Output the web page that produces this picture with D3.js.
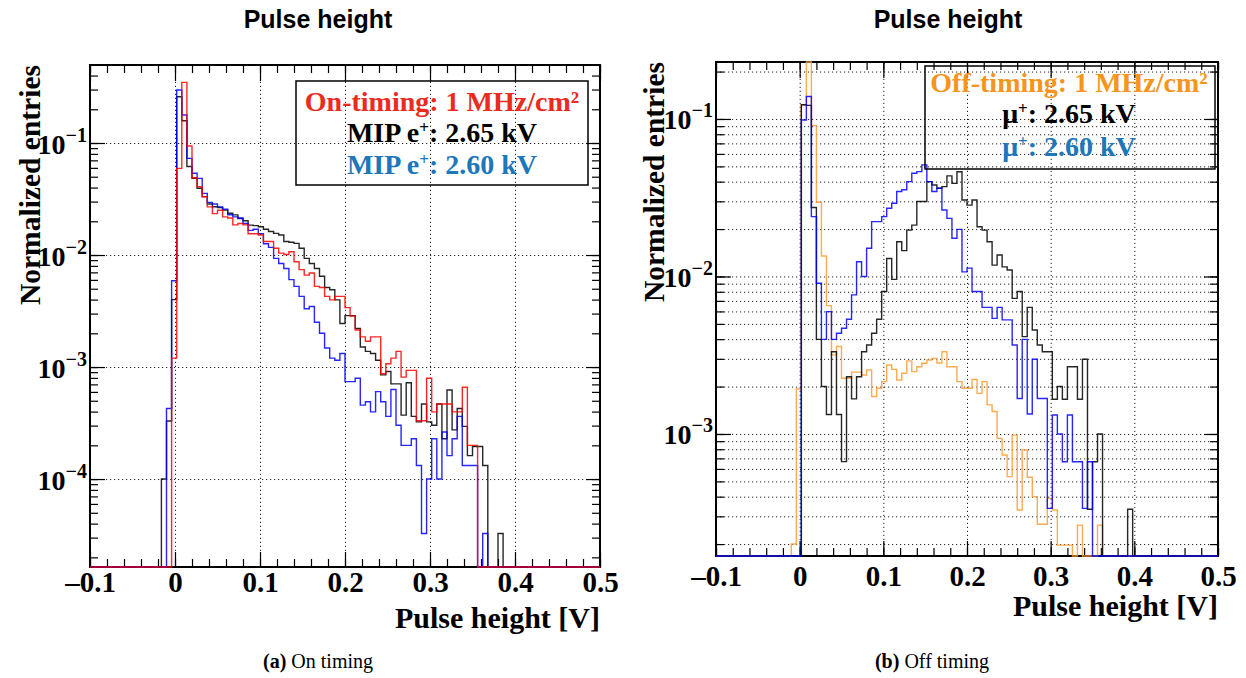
<!DOCTYPE html>
<html>
<head>
<meta charset="utf-8">
<script src="https://cdn.jsdelivr.net/npm/d3@7"></script>
<style>
  body { margin: 0; background: #fff; }
  svg { display: block; }
</style>
</head>
<body>
<svg id="chart" width="1246" height="678"></svg>
<script>
// ---- binning (100 bins from -0.1 V to 0.5 V) ----
const BIN_LO = -0.1;
const BIN_W = 0.006;
const N_BINS = 100;

// ---- axis ticks ----
const xTickValues = [-0.1, 0, 0.1, 0.2, 0.3, 0.4, 0.5];
const xTickLabels = ["\u20130.1", "0", "0.1", "0.2", "0.3", "0.4", "0.5"];
const onDecades = [-1, -2, -3, -4];
const offDecades = [-1, -2, -3];

// ---- (a) on timing: normalized entries per bin, starting at bin onFirstBin ----
const onFirstBin = 14;
const onBlack = [ // MIP e+ 2.65 kV
  1.0e-4, 3.3e-4, 4.0e-3, 0.259, 0.158, 0.0617, 0.0484, 0.0394, 0.0332, 0.0285,
  0.0270, 0.0266, 0.0252, 0.0236, 0.0228, 0.0212, 0.0202, 0.0185, 0.0183, 0.0179,
  0.0170, 0.0162, 0.0156, 0.0151, 0.0132, 0.0130, 0.0127, 0.0115, 0.00933, 0.00841,
  0.00759, 0.00646, 0.00513, 0.00490, 0.00398, 0.00245, 0.00288, 0.00288, 0.00221, 0.00151,
  0.00138, 0.00132, 0.00115, 0.000851, 0.000912, 0.000708, 0.000708, 0.000372, 0.000724, 0.000363,
  0.000324, 0.000468, 0.000324, 0.000302, 0.000468, 0.000229, 0.000624, 0.000275, 0.000427, 0.000295,
  0.000162, 0.000195, 0.000195, 0.000132, 0, 0, 3.27e-5
];
const onBlue = [ // MIP e+ 2.60 kV
  0, 0.000427, 0.00589, 0.297, 0.178, 0.0729, 0.0537, 0.0483, 0.0355, 0.0295,
  0.0285, 0.0269, 0.0257, 0.0229, 0.0219, 0.0214, 0.0191, 0.0166, 0.0170, 0.0155,
  0.0126, 0.0117, 0.00933, 0.00841, 0.00759, 0.00603, 0.00525, 0.00427, 0.00331, 0.00347,
  0.00251, 0.00200, 0.00148, 0.00120, 0.00115, 0.00132, 0.000741, 0.000741, 0.000794, 0.000457,
  0.000490, 0.000398, 0.000603, 0.000490, 0.000363, 0.000631, 0.000302, 0.000200, 0.000200, 0.000229,
  0.000132, 3.27e-5, 0.000100, 0.000229, 0.000100, 0.000263, 0.000162, 0.000229, 0.000363, 0.000132,
  0.000132, 0.000132, 0, 3.27e-5
];
const onRed = [ // on-timing 1 MHz/cm2
  0, 0, 0.00120, 0.0594, 0.348, 0.0940, 0.0490, 0.0407, 0.0331, 0.0269,
  0.0234, 0.0251, 0.0219, 0.0214, 0.0186, 0.0191, 0.0186, 0.0155, 0.0155, 0.0151,
  0.0132, 0.0132, 0.0115, 0.0104, 0.0101, 0.0107, 0.00871, 0.00741, 0.00661, 0.00692,
  0.00525, 0.00513, 0.00427, 0.00398, 0.00427, 0.00427, 0.00339, 0.00285, 0.00214, 0.00186,
  0.00170, 0.00186, 0.00186, 0.000871, 0.00107, 0.00120, 0.00138, 0.000813, 0.000933, 0.000933,
  0.000331, 0.000331, 0.000794, 0.000398, 0.000468, 0.000468, 0.000468, 0.000398, 0.000398, 0.000661,
  0.000200, 0.000200
];

// ---- (b) off timing: normalized entries per bin, starting at bin offFirstBin ----
const offFirstBin = 15;
const offOrange = [ // off-timing 1 MHz/cm2
  0.000200, 0.00193, 0.123, 0.35, 0.0908, 0.0296, 0.0135, 0.00653, 0.00318, 0.00359,
  0.00226, 0.00226, 0.00247, 0.00247, 0.00237, 0.00255, 0.00173, 0.00195, 0.00215, 0.00274,
  0.00257, 0.00220, 0.00243, 0.00291, 0.00249, 0.00267, 0.00281, 0.00295, 0.00302, 0.00282,
  0.00333, 0.00267, 0.00267, 0.00215, 0.00195, 0.00195, 0.00222, 0.00181, 0.00215, 0.00153,
  0.00139, 0.000938, 0.000735, 0.000536, 0.000984, 0.000329, 0.000791, 0.000531, 0.000400, 0.000267,
  0.000267, 0.000390, 0.000329, 0.000197, 0.000197, 0.000197, 0, 0.000264, 0, 0,
  0, 0.000264
];
const offBlack = [ // mu+ 2.65 kV
  0, 0, 0.123, 0.122, 0.0274, 0.00399, 0.00200, 0.00133, 0.00333, 0.00133,
  0.000668, 0.00231, 0.00167, 0.00231, 0.00333, 0.00367, 0.00436, 0.00535, 0.00802, 0.0130,
  0.00959, 0.0166, 0.0146, 0.0197, 0.0212, 0.0299, 0.0299, 0.0400, 0.0381, 0.0363,
  0.0372, 0.0435, 0.0390, 0.0462, 0.0306, 0.0284, 0.0306, 0.0207, 0.0197, 0.0166,
  0.0118, 0.0137, 0.0115, 0.0110, 0.00726, 0.00802, 0.00415, 0.00637, 0.00457, 0.00367,
  0.00333, 0.00333, 0.00166, 0.00200, 0.00166, 0.00267, 0.00267, 0.00166, 0.00298, 0.000333,
  0.000667, 0.00100, 0, 0, 0, 0, 0, 0.000333
];
const offBlue = [ // mu+ 2.60 kV
  0, 0, 0.0986, 0.139, 0.0240, 0.00906, 0.00399, 0.00598, 0.00399, 0.00436,
  0.00469, 0.00535, 0.00764, 0.0124, 0.0100, 0.0151, 0.0223, 0.0223, 0.0240, 0.0271,
  0.0292, 0.0346, 0.0355, 0.0400, 0.0452, 0.0463, 0.0511, 0.0400, 0.0346, 0.0363,
  0.0264, 0.0234, 0.0175, 0.0199, 0.0107, 0.0113, 0.00802, 0.00802, 0.00637, 0.00637,
  0.00542, 0.00637, 0.00530, 0.00530, 0.00367, 0.00168, 0.00399, 0.00134, 0.00298, 0.00168,
  0.00168, 0.000337, 0.00132, 0.00100, 0.000667, 0.00132, 0.000667, 0.000667, 0.000337, 0.000667
];

// ---- styling ----
const SERIF = "'Liberation Serif', 'Times New Roman', serif";
const SANS = "'Liberation Sans', Arial, Helvetica, sans-serif";
const COL = {
  red: "#ff0000", blue: "#0000ff", black: "#000000", orange: "#ff9c33",
  txtRed: "#ec2a1e", txtBlue: "#1d77b9", txtOrange: "#f7941d"
};

const svg = d3.select("#chart");

const panels = [
  {
    box: { x0: 90, x1: 600, y0: 65, y1: 567 },
    yDomain: [1.64e-5, 0.497],
    decades: onDecades,
    minorGrid: false,
    title: { x: 318, y: 28 },
    yTitle: { x: 40 },
    xLabelY: 592, xTitleY: 628,
    caption: { x: 318, y: 668, bold: "(a)", rest: " On timing" },
    series: [
      { values: onBlack, first: onFirstBin, color: COL.black },
      { values: onBlue, first: onFirstBin, color: COL.blue },
      { values: onRed, first: onFirstBin, color: COL.red }
    ],
    legend: {
      box: { x0: 296, y0: 81, x1: 588, y1: 185 }, cx: 442,
      lines: [
        { y: 111, color: COL.txtRed, parts: [["On-timing: 1 MHz/cm\u00B2", false]] },
        { y: 142, color: COL.black, parts: [["MIP e", false], ["+", true], [": 2.65 kV", false]] },
        { y: 174, color: COL.txtBlue, parts: [["MIP e", false], ["+", true], [": 2.60 kV", false]] }
      ]
    }
  },
  {
    box: { x0: 716, x1: 1218, y0: 62, y1: 556 },
    yDomain: [1.68e-4, 0.230],
    decades: offDecades,
    minorGrid: true,
    title: { x: 948, y: 28 },
    yTitle: { x: 664 },
    xLabelY: 586, xTitleY: 616,
    caption: { x: 932, y: 668, bold: "(b)", rest: " Off timing" },
    series: [
      { values: offOrange, first: offFirstBin, color: COL.orange },
      { values: offBlack, first: offFirstBin, color: COL.black },
      { values: offBlue, first: offFirstBin, color: COL.blue }
    ],
    legend: {
      box: { x0: 925, y0: 66, x1: 1215, y1: 169 }, cx: 1069,
      lines: [
        { y: 92, color: COL.txtOrange, parts: [["Off-timing: 1 MHz/cm\u00B2", false]] },
        { y: 123, color: COL.black, parts: [["\u03BC", false], ["+", true], [": 2.65 kV", false]] },
        { y: 156, color: COL.txtBlue, parts: [["\u03BC", false], ["+", true], [": 2.60 kV", false]] }
      ]
    }
  }
];

function binValue(values, first, k) {
  const i = k - first;
  return (i >= 0 && i < values.length) ? values[i] : 0;
}

function drawPanel(p) {
  const { x0, x1, y0, y1 } = p.box;
  const x = d3.scaleLinear().domain([-0.1, 0.5]).range([x0, x1]);
  const y = d3.scaleLog().domain(p.yDomain).range([y1, y0]).clamp(true);
  const g = svg.append("g");

  // log minor tick positions (1..9 x 10^d inside the domain)
  const minorY = [];
  for (let d = -6; d <= 0; d++) {
    for (let m = 1; m <= 9; m++) {
      const v = m * Math.pow(10, d);
      if (v >= p.yDomain[0] && v <= p.yDomain[1]) minorY.push(v);
    }
  }
  const majorY = p.decades.map(d => Math.pow(10, d));
  const minorX = d3.range(-0.1, 0.5001, 0.02).map(v => +v.toFixed(3));

  const plain = sel => {
    sel.select(".domain").remove();
    sel.selectAll(".tick line").attr("stroke", "#000");
  };

  // dotted grid
  const gridStyle = sel => {
    sel.select(".domain").remove();
    sel.selectAll(".tick line")
      .attr("stroke", "#222").attr("stroke-width", 1)
      .attr("stroke-dasharray", "1.2,2.8");
    sel.selectAll(".tick text").remove();
  };
  g.append("g").attr("transform", `translate(0,${y1})`)
    .call(d3.axisBottom(x).tickValues(xTickValues.slice(1, -1)).tickSize(-(y1 - y0)).tickFormat(""))
    .call(gridStyle);
  g.append("g").attr("transform", `translate(${x0},0)`)
    .call(d3.axisLeft(y).tickValues(p.minorGrid ? minorY : majorY).tickSize(-(x1 - x0)).tickFormat(""))
    .call(gridStyle);

  // ticks: bottom/top x, left/right y (major and minor)
  const tickSet = (axis, tr, size) => g.append("g").attr("transform", tr).call(axis.tickSize(size).tickFormat("")).call(plain)
    .selectAll(".tick line").attr("stroke-width", 1.2);
  tickSet(d3.axisBottom(x).tickValues(minorX), `translate(0,${y1})`, -8);
  tickSet(d3.axisBottom(x).tickValues(xTickValues), `translate(0,${y1})`, -15);
  tickSet(d3.axisTop(x).tickValues(minorX), `translate(0,${y0})`, -8);
  tickSet(d3.axisTop(x).tickValues(xTickValues), `translate(0,${y0})`, -16);
  tickSet(d3.axisLeft(y).tickValues(minorY), `translate(${x0},0)`, -8);
  tickSet(d3.axisLeft(y).tickValues(majorY), `translate(${x0},0)`, -15);
  tickSet(d3.axisRight(y).tickValues(minorY), `translate(${x1},0)`, -8);
  tickSet(d3.axisRight(y).tickValues(majorY), `translate(${x1},0)`, -14);

  // frame
  g.append("rect").attr("x", x0).attr("y", y0).attr("width", x1 - x0).attr("height", y1 - y0)
    .attr("fill", "none").attr("stroke", "#000").attr("stroke-width", 2);

  // histograms (zero bins sit on the frame bottom)
  const line = d3.line().x(d => x(d[0])).y(d => d[1] > 0 ? y(d[1]) : y1);
  p.series.forEach(s => {
    const pts = [];
    for (let k = 0; k < N_BINS; k++) {
      const v = binValue(s.values, s.first, k);
      const a = BIN_LO + k * BIN_W;
      pts.push([a, v], [a + BIN_W, v]);
    }
    g.append("path").datum(pts).attr("d", line)
      .attr("fill", "none").attr("stroke", s.color).attr("stroke-width", 1.4)
      .attr("stroke-opacity", 0.85).attr("stroke-linejoin", "miter");
  });

  // x tick labels
  const xl = g.append("g").attr("transform", `translate(0,${p.xLabelY})`)
    .call(d3.axisBottom(x).tickValues(xTickValues).tickSize(0).tickPadding(0)
      .tickFormat((d, i) => xTickLabels[i]));
  xl.select(".domain").remove();
  xl.selectAll(".tick text").attr("dy", 0).attr("y", 0)
    .attr("font-family", SERIF).attr("font-weight", "bold").attr("font-size", 29).attr("fill", "#000");

  // y tick labels 10^n
  const yl = g.append("g").attr("transform", `translate(${x0 - 3},0)`)
    .call(d3.axisLeft(y).tickValues(majorY).tickSize(0).tickPadding(0).tickFormat(""));
  yl.select(".domain").remove();
  yl.selectAll(".tick text").each(function (d) {
    const t = d3.select(this).attr("dy", null).attr("x", 0).attr("y", 10)
      .attr("text-anchor", "end").attr("font-family", SERIF).attr("font-weight", "bold")
      .attr("font-size", 28).attr("fill", "#000");
    t.append("tspan").text("10");
    t.append("tspan").attr("dy", -12).attr("font-size", 20).text("\u2212" + Math.round(-Math.log10(d)));
  });

  // axis titles
  g.append("text").attr("x", x1).attr("y", p.xTitleY).attr("text-anchor", "end")
    .attr("font-family", SERIF).attr("font-weight", "bold").attr("font-size", 30)
    .text("Pulse height [V]");
  g.append("text").attr("transform", `translate(${p.yTitle.x},${y0}) rotate(-90)`)
    .attr("text-anchor", "end")
    .attr("font-family", SERIF).attr("font-weight", "bold").attr("font-size", 29.5)
    .text("Normalized entries");

  // title
  g.append("text").attr("x", p.title.x).attr("y", p.title.y).attr("text-anchor", "middle")
    .attr("font-family", SANS).attr("font-weight", "bold").attr("font-size", 25)
    .text("Pulse height");

  // legend
  const L = p.legend;
  g.append("rect").attr("x", L.box.x0).attr("y", L.box.y0)
    .attr("width", L.box.x1 - L.box.x0).attr("height", L.box.y1 - L.box.y0)
    .attr("fill", "none").attr("stroke", "#000").attr("stroke-width", 1.5);
  L.lines.forEach(ln => {
    const t = g.append("text").attr("x", L.cx).attr("y", ln.y).attr("text-anchor", "middle")
      .attr("font-family", SERIF).attr("font-weight", "bold").attr("font-size", 28)
      .attr("fill", ln.color);
    let raised = false;
    ln.parts.forEach(([s, sup]) => {
      const ts = t.append("tspan").text(s);
      if (sup) { ts.attr("dy", -9).attr("font-size", 17); raised = true; }
      else if (raised) { ts.attr("dy", 9); raised = false; }
    });
  });

  // caption
  const c = g.append("text").attr("x", p.caption.x).attr("y", p.caption.y).attr("text-anchor", "middle")
    .attr("font-family", SERIF).attr("font-size", 20).attr("fill", "#000");
  c.append("tspan").attr("font-weight", "bold").text(p.caption.bold);
  c.append("tspan").text(p.caption.rest);
}

panels.forEach(drawPanel);
</script>
</body>
</html>
